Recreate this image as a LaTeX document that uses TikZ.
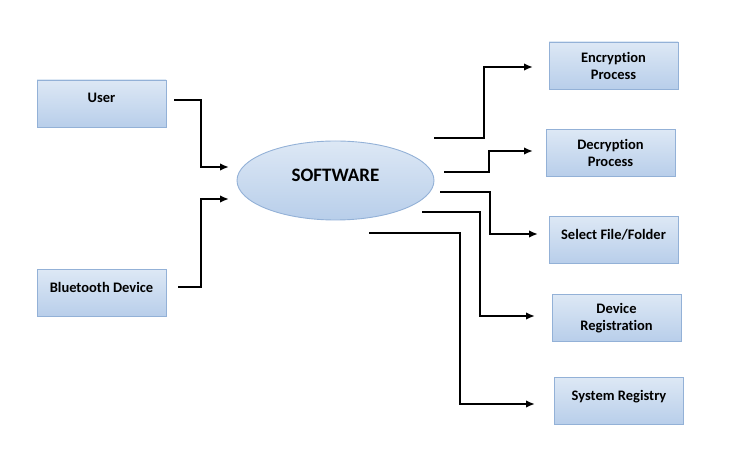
\documentclass[tikz,border=0pt]{standalone}
\usepackage{fontspec}
\setmainfont{Carlito}[Ligatures=NoCommon]
\usetikzlibrary{arrows.meta,shapes.geometric}

\definecolor{boxtop}{HTML}{DDE8F5}
\definecolor{boxbot}{HTML}{B8CEEA}
\definecolor{boxline}{HTML}{93B1D7}

\tikzset{
	unit/.style={draw=boxline, line width=0.9pt, top color=boxtop, bottom color=boxbot,
		minimum width=129pt, minimum height=47pt, align=center,
		font=\fontsize{14.5}{17}\selectfont\bfseries},
	upper/.style={text depth=11pt},
	core/.style={ellipse, draw=boxline, line width=0.9pt, top color=boxtop, bottom color=boxbot,
		minimum width=197pt, minimum height=79pt, text depth=11pt,
		font=\fontsize{19}{22}\selectfont\bfseries},
	flow/.style={->, line width=1.9pt}
}

\begin{document}
\begin{tikzpicture}[x=1pt, y=-1pt, >={Latex[length=9pt,width=7.5pt]}]
	\useasboundingbox (0,0) rectangle (737,462);

	\node[unit,upper] (user) at (101.5,103.5) {User};
	\node[unit,upper] (bt) at (101.5,293) {Bluetooth Device};
	\node[core] (sw) at (335.5,180.5) {SOFTWARE};

	\node[unit] (enc) at (613.5,65.5) {Encryption\\Process};
	\node[unit] (dec) at (610.5,153) {Decryption\\Process};
	\node[unit,upper] (sel) at (613.5,240) {Select File/Folder};
	\node[unit] (dev) at (616.5,318) {Device\\Registration};
	\node[unit,upper] (sys) at (619,401) {System Registry};

	% free ends of the connectors
	\coordinate (oUser) at (174,100);
	\coordinate (oBt) at (178,287);
	\coordinate (iUser) at (229,167);
	\coordinate (iBt) at (229,199);

	\coordinate (oEnc) at (434,138);
	\coordinate (oDec) at (444,172);
	\coordinate (oSel) at (440,192);
	\coordinate (oDev) at (422,212);
	\coordinate (oSys) at (369,233);

	\coordinate (iEnc) at (533,67);
	\coordinate (iDec) at (533,151);
	\coordinate (iSel) at (538,234);
	\coordinate (iDev) at (535,316);
	\coordinate (iSys) at (535,404);

	\draw[flow] (oUser) -- ++(27,0) |- (iUser);
	\draw[flow] (oBt) -- ++(23,0) |- (iBt);

	\draw[flow] (oEnc) -- ++(50,0) |- (iEnc);
	\draw[flow] (oDec) -- ++(45,0) |- (iDec);
	\draw[flow] (oSel) -- ++(50,0) |- (iSel);
	\draw[flow] (oDev) -- ++(58,0) |- (iDev);
	\draw[flow] (oSys) -- ++(91,0) |- (iSys);
\end{tikzpicture}
\end{document}
